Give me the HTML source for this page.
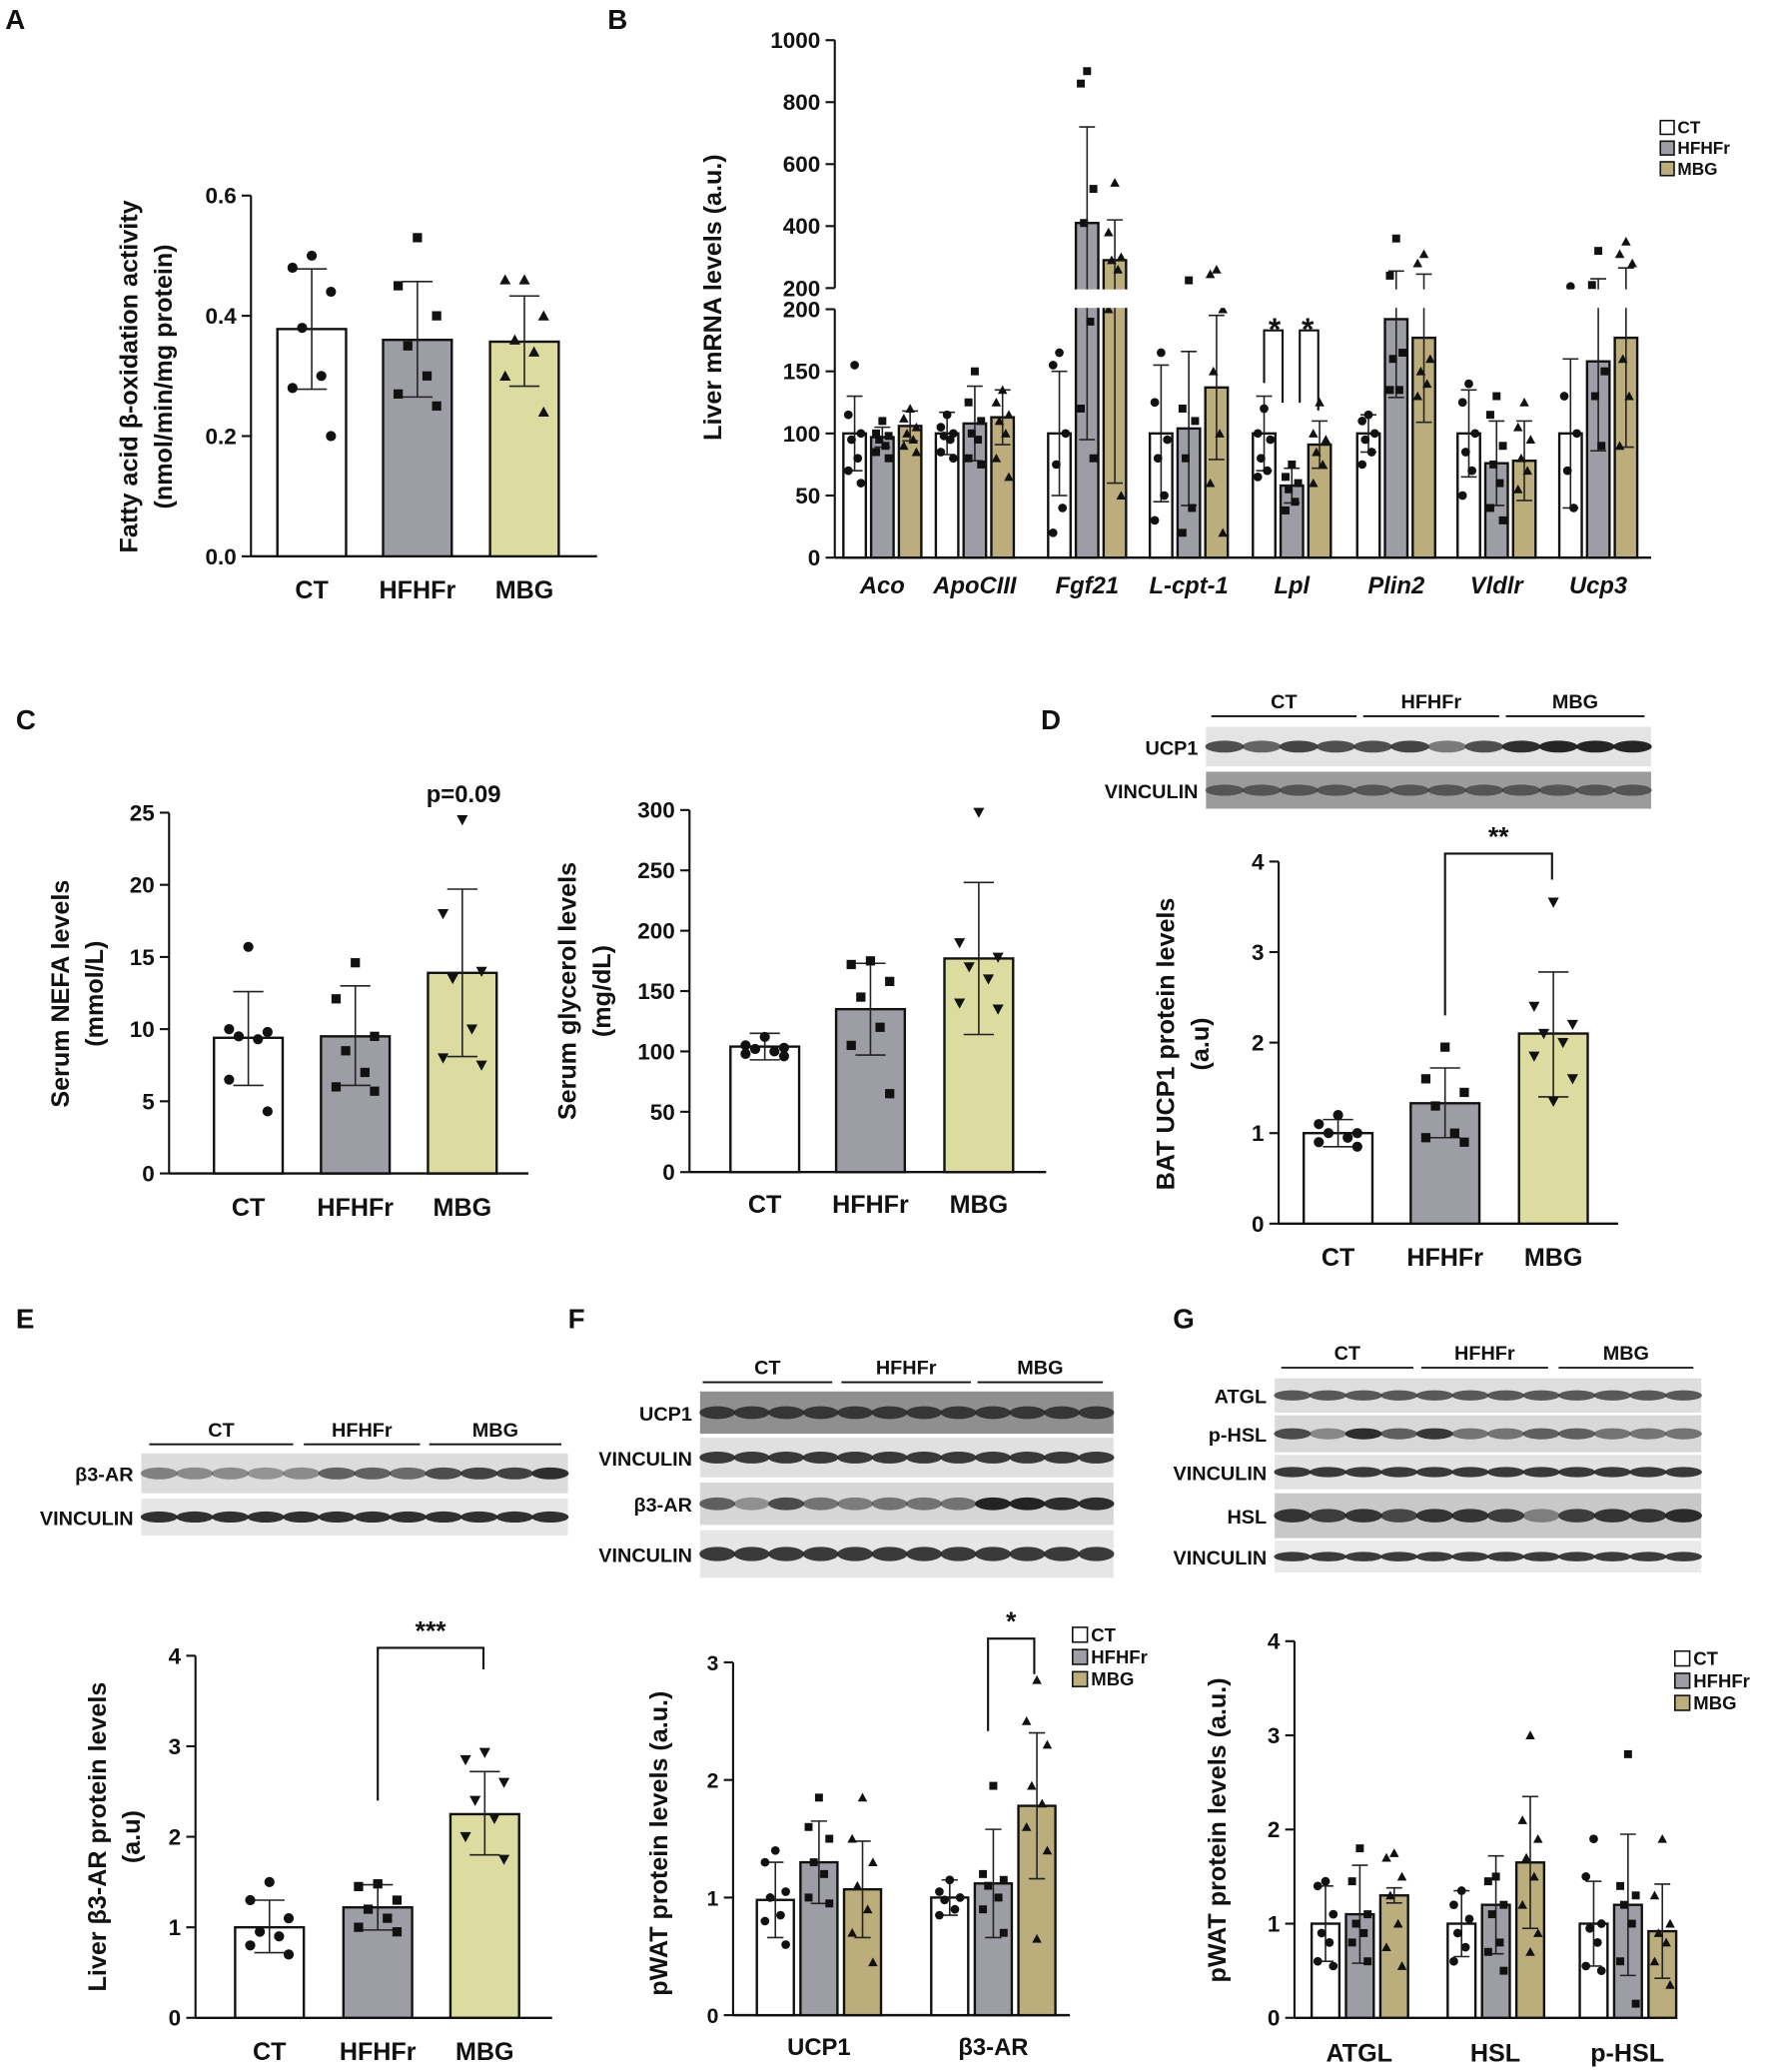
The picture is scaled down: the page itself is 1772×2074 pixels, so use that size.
<!DOCTYPE html>
<html><head><meta charset="utf-8"><style>
html,body{margin:0;padding:0;background:#fff;}
svg{display:block;font-family:"Liberation Sans",Arial,sans-serif;}
text{font-weight:bold;fill:#111;}
</style></head><body>
<svg id="fig" width="1772" height="2074" viewBox="0 0 1340 1568" preserveAspectRatio="none" xmlns="http://www.w3.org/2000/svg"></svg>
<script>
// ---- DATA ----
const groups = ['CT','HFHFr','MBG'];
// Panel A
const aVals=[0.378,0.36,0.357], aHi=[0.478,0.457,0.433], aLo=[0.278,0.265,0.283];
const aPts=[[0.5,0.48,0.44,0.38,0.3,0.28,0.2],[0.53,0.45,0.4,0.35,0.3,0.27,0.25],[0.46,0.46,0.4,0.36,0.34,0.3,0.24]];
const aTicks=[0,0.2,0.4,0.6], aTickLabels=['0.0','0.2','0.4','0.6'];
// Panel B
const bGenes=['Aco','ApoCIII','Fgf21','L-cpt-1','Lpl','Plin2','Vldlr','Ucp3'];
const bVals=[[100,97,106],[100,108,113],[100,410,290],[100,104,137],[100,58,91],[100,192,177],[100,76,78],[100,158,177]];
const bHi=[[130,105,118],[117,138,135],[150,720,420],[155,166,195],[130,72,110],[115,255,245],[135,110,110],[160,230,265]];
const bLo=[[70,89,94],[83,78,91],[50,95,60],[45,42,79],[70,44,72],[85,129,109],[65,42,46],[40,86,89]];
const bPts=[
[[155,115,100,95,80,70,60],[110,100,98,95,90,85,80],[120,112,105,100,95,90,85]],
[[115,105,100,98,95,85,80],[150,125,110,100,95,80,75],[135,125,115,110,100,80,65]],
[[165,155,100,75,40,20],[900,860,520,410,190,120,80],[540,380,300,290,260,200,50]],
[[165,125,95,80,50,30],[225,120,110,80,40,20],[260,245,200,150,100,60,20]],
[[120,100,95,80,70,65],[75,65,60,55,45,38],[125,100,95,85,75,60]],
[[115,110,100,95,85,75],[360,240,165,160,135,135],[310,280,160,150,140,130]],
[[140,125,100,85,70,50],[130,115,90,75,60,40,30],[125,105,95,80,70,55]],
[[205,130,100,70,40],[320,210,150,130,90],[350,310,280,160,130,90]]];
const bTicksLo=[0,50,100,150,200], bTicksHi=[200,400,600,800,1000];
// Panel C left (NEFA)
const cVals=[9.4,9.5,13.9], cHi=[12.6,13.0,19.7], cLo=[6.1,6.1,8.1];
const cPts=[[15.7,10,9.8,9.5,9.3,6.5,4.3],[14.6,12.1,9.5,8.5,7,6,5.7],[24.5,18,14,13.5,10,8,7.5]];
const cTicks=[0,5,10,15,20,25];
// Panel C right (glycerol)
const gVals=[104,135,177], gHi=[115,173,240], gLo=[93,97,114];
const gPts=[[112,105,103,102,100,98,96],[175,172,158,145,120,105,65],[298,190,178,170,160,140,135]];
const gTicks=[0,50,100,150,200,250,300];
// Panel D
const dVals=[1.0,1.33,2.1], dHi=[1.15,1.72,2.78], dLo=[0.85,0.95,1.4];
const dPts=[[1.2,1.1,1.0,1.0,0.95,0.9,0.85],[1.95,1.6,1.45,1.3,1.0,0.95,0.9],[3.55,2.4,2.2,2.1,2.0,1.85,1.6,1.35]];
const dTicks=[0,1,2,3,4];
// Panel E
const eVals=[1.0,1.22,2.25], eHi=[1.3,1.47,2.72], eLo=[0.72,0.97,1.8];
const ePts=[[1.5,1.3,1.1,0.95,0.9,0.8,0.7],[1.48,1.45,1.3,1.2,1.1,1.0,0.95],[2.93,2.85,2.6,2.4,2.2,2.0,1.75]];
// Panel F
const fCats=['UCP1','β3-AR'];
const fVals=[[0.98,1.3,1.07],[1.0,1.12,1.78]], fHi=[[1.3,1.65,1.48],[1.15,1.58,2.4]], fLo=[[0.66,0.95,0.66],[0.85,0.66,1.16]];
const fPts=[[[1.4,1.3,1.05,1.0,0.85,0.8,0.6],[1.85,1.6,1.5,1.3,1.2,1.0,0.95],[1.85,1.5,1.3,1.1,0.9,0.7,0.45]],
[[1.15,1.05,1.0,0.98,0.9,0.85],[1.95,1.2,1.15,1.1,1.0,0.9,0.7],[2.85,2.5,2.3,1.95,1.8,1.6,1.4,0.65]]];
const fTicks=[0,1,2,3];
// Panel G
const gCats=['ATGL','HSL','p-HSL'];
const hVals=[[1.0,1.1,1.3],[1.0,1.2,1.65],[1.0,1.2,0.92]], hHi=[[1.4,1.62,1.38],[1.35,1.72,2.35],[1.45,1.95,1.42]], hLo=[[0.6,0.58,1.22],[0.65,0.68,0.95],[0.55,0.45,0.42]];
const hPts=[[[1.45,1.4,1.1,0.9,0.8,0.6,0.55],[1.8,1.45,1.1,1.0,0.9,0.8,0.6],[1.75,1.7,1.5,1.3,1.0,0.75,0.55]],
[[1.35,1.2,1.05,0.9,0.75,0.6],[1.5,1.45,1.2,1.1,0.8,0.7,0.5],[3.0,2.1,1.9,1.7,1.5,1.2,0.9,0.7]],
[[1.9,1.5,1.0,0.95,0.8,0.55,0.5],[2.8,1.4,1.3,1.2,1.0,0.6,0.15],[1.9,1.3,1.0,0.9,0.8,0.6,0.35]]];

// ---- DRAWING ----
const svg=document.getElementById('fig');
const NS='http://www.w3.org/2000/svg';
function mk(tag,attrs,name,parent){
  const el=document.createElementNS(NS,tag);
  for(const k in attrs) el.setAttribute(k,attrs[k]);
  
  
  (parent||svg).appendChild(el);
  return el;
}
function txt(x,y,s,name,opt){
  opt=opt||{};
  const t=mk('text',{x:x,y:y,'font-size':opt.size||17,'text-anchor':opt.anchor||'middle','font-style':opt.italic?'italic':'normal'},name);
  if(opt.rot) t.setAttribute('transform','rotate(-90 '+x+' '+y+')');
  t.textContent=s;
  return t;
}
function lin(v0,v1,p0,p1){return v=>p0+(v-v0)*(p1-p0)/(v1-v0);}
function yAxis(x,yOf,ticks,labels,name,fs){
  const vals=ticks.map(yOf);
  mk('line',{x1:x,x2:x,y1:Math.min(...vals),y2:Math.max(...vals),stroke:'#111','stroke-width':1.6},name+'-line');
  ticks.forEach((t,i)=>{
    mk('line',{x1:x-7,x2:x,y1:yOf(t),y2:yOf(t),stroke:'#111','stroke-width':1.6},name+'-tick');
    txt(x-11,yOf(t)+6,labels?labels[i]:String(t),name+'-label',{anchor:'end',size:fs||17});
  });
}
function xAxis(x1,x2,y,name){mk('line',{x1:x1,x2:x2,y1:y,y2:y,stroke:'#111','stroke-width':1.8},name);}
function marker(cx,cy,type,s,name){
  if(type==='c') mk('circle',{cx:cx,cy:cy,r:s*0.55,fill:'#111'},name);
  else if(type==='s') mk('rect',{x:cx-s*0.5,y:cy-s*0.5,width:s,height:s,fill:'#111'},name);
  else if(type==='t') mk('polygon',{points:`${cx},${cy-s*0.6} ${cx-s*0.6},${cy+s*0.5} ${cx+s*0.6},${cy+s*0.5}`,fill:'#111'},name);
  else mk('polygon',{points:`${cx},${cy+s*0.6} ${cx-s*0.6},${cy-s*0.5} ${cx+s*0.6},${cy-s*0.5}`,fill:'#111'},name);
}
function bar(x,w,yOf,val,hi,lo,pts,fill,mtype,name,ms){
  const y0=yOf(0),y=yOf(val);
  mk('rect',{x:x,y:y,width:w,height:y0-y,fill:fill,stroke:'#111','stroke-width':1.8},name);
  const cx=x+w/2,cw=Math.max(6,w*0.22);
  mk('line',{x1:cx,x2:cx,y1:yOf(hi),y2:yOf(lo),stroke:'#222','stroke-width':1.2},name+'-error');
  mk('line',{x1:cx-cw,x2:cx+cw,y1:yOf(hi),y2:yOf(hi),stroke:'#222','stroke-width':1.2},name+'-error-cap');
  mk('line',{x1:cx-cw,x2:cx+cw,y1:yOf(lo),y2:yOf(lo),stroke:'#222','stroke-width':1.2},name+'-error-cap');
  pts.forEach((p,j)=>{
    const off=[0,-1,1,-0.5,0.5,-1,1,0][j%8]*w*0.28;
    marker(cx+off,yOf(p),mtype,ms||7,name+'-point');
  });
}
function panelLabel(x,y,s){txt(x,y,s,'panel-label-'+s.toLowerCase(),{anchor:'start',size:21});}
function bracket(x1,yb1,x2,yb2,ytop,label,name){
  mk('polyline',{points:`${x1},${yb1} ${x1},${ytop} ${x2},${ytop} ${x2},${yb2}`,fill:'none',stroke:'#111','stroke-width':1.6},name);
  txt((x1+x2)/2,ytop-6,label,name+'-stars',{size:20});
}
function legend(x,y,name,fills,fs){
  groups.forEach((g,i)=>{
    mk('rect',{x:x,y:y+i*fs*1.2-fs*0.75,width:fs*0.8,height:fs*0.8,fill:fills[i],stroke:'#111','stroke-width':1.2},name+'-swatch');
    txt(x+fs,y+i*fs*1.2,g,name+'-entry',{anchor:'start',size:fs});
  });
}
function blot(x,rows,w,lanes,name){
  rows.forEach((r)=>{
    mk('rect',{x:x,y:r.y,width:w,height:r.h,fill:r.bg||'#dadada'},name+'-row');
    const lw=w/lanes;
    for(let k=0;k<lanes;k++){
      const d=r.dark?r.dark[k%r.dark.length]:0.6;
      mk('ellipse',{cx:x+lw*(k+0.5),cy:r.y+r.h/2,rx:lw*0.52,ry:r.h*0.15,fill:`rgba(15,15,15,${d})`},name+'-band');
    }
    txt(x-6,r.y+r.h/2+6,r.label,name+'-label',{anchor:'end',size:15});
  });
}
function groupHeader(xs,y,name){
  groups.forEach((g,i)=>{
    mk('line',{x1:xs[i][0],x2:xs[i][1],y1:y,y2:y,stroke:'#111','stroke-width':1.4},name+'-line');
    txt((xs[i][0]+xs[i][1])/2,y-6,g,name+'-label',{size:15});
  });
}
const W='#ffffff',G='#9d9da6',M1='#dcdba0',M2='#bcad7c';
const fills1=[W,G,M1],fills2=[W,G,M2];

// ===== Panel A =====
panelLabel(4,22,'A');
{const yOf=lin(0,0.6,421,148);
yAxis(190,yOf,aTicks,aTickLabels,'a-y-axis');
xAxis(190,452,421,'a-x-axis');
const xs=[210,290,371],mt=['c','s','t'];
groups.forEach((g,i)=>{bar(xs[i],52,yOf,aVals[i],aHi[i],aLo[i],aPts[i],fills1[i],mt[i],'a-bar-'+g.toLowerCase());
 txt(xs[i]+26,453,g,'a-x-label',{size:19});});
txt(104,285,'Fatty acid β-oxidation activity','a-y-title',{rot:1,size:19});
txt(130,285,'(nmol/min/mg protein)','a-y-title-2',{rot:1,size:19});}

// ===== Panel B =====
panelLabel(460,22,'B');
{const yOf=v=> v<=200 ? 422-v*0.94 : 218-(v-200)*0.2345;
const cxs=[668,738,823,900,978,1057,1133,1210],bw=17,mt=['c','s','t'];
bGenes.forEach((gn,i)=>{
  groups.forEach((g,j)=>{const x=cxs[i]+(j-1)*21-bw/2;
    bar(x,bw,yOf,bVals[i][j],bHi[i][j],bLo[i][j],bPts[i][j],fills2[j],mt[j],'b-bar-'+gn.toLowerCase()+'-'+g.toLowerCase(),6);});
  txt(cxs[i],449,gn,'b-x-label',{size:18,italic:1});
});
mk('rect',{x:634,y:219,width:620,height:14,fill:'#fff'},'b-axis-break-gap');
yAxis(632,yOf,bTicksLo,null,'b-y-axis-lower');
const yH=v=>218-(v-200)*0.2345;
yAxis(632,yH,bTicksHi,null,'b-y-axis-upper');
xAxis(632,1250,422,'b-x-axis');
txt(546,225,'Liver mRNA levels (a.u.)','b-y-title',{rot:1,size:19});
legend(1257,101,'b-legend',fills2,13);
bracket(957,yOf(130)-10,971,yOf(130)+5,yOf(183),'','b-sig-lpl-1');
bracket(984,yOf(130)+5,998,yOf(110)-8,yOf(183),'','b-sig-lpl-2');
txt(965,257,'*','b-star-1',{size:24});txt(990,257,'*','b-star-2',{size:24});}

// ===== Panel C left =====
panelLabel(12,552,'C');
{const yOf=lin(0,25,888,615);
yAxis(128,yOf,cTicks,null,'c-nefa-y-axis');
xAxis(128,400,888,'c-nefa-x-axis');
const xs=[162,243,324],mt=['c','s','v'];
groups.forEach((g,i)=>{bar(xs[i],52,yOf,cVals[i],cHi[i],cLo[i],cPts[i],fills1[i],mt[i],'c-nefa-bar-'+g.toLowerCase());
 txt(xs[i]+26,920,g,'c-nefa-x-label',{size:19});});
txt(351,607,'p=0.09','c-nefa-pvalue',{size:18});
txt(52,752,'Serum NEFA levels','c-nefa-y-title',{rot:1,size:19});
txt(78,752,'(mmol/L)','c-nefa-y-title-2',{rot:1,size:19});}

// ===== Panel C right =====
{const yOf=lin(0,300,887,613);
yAxis(522,yOf,gTicks,null,'c-glycerol-y-axis');
xAxis(522,792,887,'c-glycerol-x-axis');
const xs=[553,633,715],mt=['c','s','v'];
groups.forEach((g,i)=>{bar(xs[i],52,yOf,gVals[i],gHi[i],gLo[i],gPts[i],fills1[i],mt[i],'c-glycerol-bar-'+g.toLowerCase());
 txt(xs[i]+26,918,g,'c-glycerol-x-label',{size:19});});
txt(436,750,'Serum glycerol levels','c-glycerol-y-title',{rot:1,size:19});
txt(462,750,'(mg/dL)','c-glycerol-y-title-2',{rot:1,size:19});}

// ===== Panel D =====
panelLabel(788,552,'D');
groupHeader([[917,1027],[1032,1135],[1140,1245]],542,'d-blot-header');
blot(913,[{y:550,h:30,label:'UCP1',bg:'#e4e4e4',dark:[0.7,0.6,0.75,0.7,0.7,0.75,0.5,0.7,0.85,0.9,0.9,0.9]},{y:584,h:28,label:'VINCULIN',bg:'#9b9b9b',dark:[0.5]}],337,12,'d-blot');
{const yOf=lin(0,4,926,652);
yAxis(968,yOf,dTicks,null,'d-y-axis');
xAxis(968,1225,926,'d-x-axis');
const xs=[987,1068,1150],mt=['c','s','v'];
groups.forEach((g,i)=>{bar(xs[i],52,yOf,dVals[i],dHi[i],dLo[i],dPts[i],fills1[i],mt[i],'d-bar-'+g.toLowerCase());
 txt(xs[i]+26,958,g,'d-x-label',{size:19});});
bracket(1094,yOf(2.3),1175,yOf(3.8),646,'**','d-sig-bracket');
txt(889,790,'BAT UCP1 protein levels','d-y-title',{rot:1,size:19});
txt(915,790,'(a.u)','d-y-title-2',{rot:1,size:19});}

// ===== Panel E =====
panelLabel(12,1005,'E');
groupHeader([[113,222],[230,318],[325,425]],1093,'e-blot-header');
blot(107,[{y:1100,h:30,label:'β3-AR',bg:'#dcdcdc',dark:[0.45,0.4,0.4,0.35,0.4,0.6,0.6,0.55,0.7,0.75,0.75,0.85]},{y:1134,h:28,label:'VINCULIN',bg:'#e6e6e6',dark:[0.85]}],323,12,'e-blot');
{const yOf=lin(0,4,1527,1253);
yAxis(148,yOf,dTicks,null,'e-y-axis');
xAxis(148,418,1527,'e-x-axis');
const xs=[178,260,341],mt=['c','s','v'];
groups.forEach((g,i)=>{bar(xs[i],52,yOf,eVals[i],eHi[i],eLo[i],ePts[i],fills1[i],mt[i],'e-bar-'+g.toLowerCase());
 txt(xs[i]+26,1559,g,'e-x-label',{size:19});});
bracket(286,yOf(2.4),366,yOf(3.85),1247,'***','e-sig-bracket');
txt(80,1390,'Liver β3-AR protein levels','e-y-title',{rot:1,size:19});
txt(106,1390,'(a.u)','e-y-title-2',{rot:1,size:19});}

// ===== Panel F =====
panelLabel(430,1005,'F');
groupHeader([[532,630],[637,735],[740,835]],1046,'f-blot-header');
blot(530,[{y:1053,h:32,label:'UCP1',bg:'#8f8f8f',dark:[0.7]},{y:1088,h:30,label:'VINCULIN',bg:'#e0e0e0',dark:[0.8]},{y:1122,h:32,label:'β3-AR',bg:'#d6d6d6',dark:[0.6,0.35,0.7,0.5,0.45,0.5,0.5,0.5,0.9,0.9,0.85,0.85]},{y:1158,h:36,label:'VINCULIN',bg:'#e6e6e6',dark:[0.8]}],313,12,'f-blot');
{const yOf=lin(0,3,1525,1258);
yAxis(555,yOf,fTicks,null,'f-y-axis',16);
xAxis(555,810,1525,'f-x-axis');
const gx=[573,705],mt=['c','s','t'];
fCats.forEach((c,i)=>{groups.forEach((g,j)=>bar(gx[i]+j*33,28,yOf,fVals[i][j],fHi[i][j],fLo[i][j],fPts[i][j],fills2[j],mt[j],'f-bar-'+c.toLowerCase()+'-'+g.toLowerCase(),6));
 txt(gx[i]+47,1555,c,'f-x-label',{size:18});});
bracket(748,1310,783,yOf(2.9),1240,'*','f-sig-bracket');
txt(505,1395,'pWAT protein levels (a.u.)','f-y-title',{rot:1,size:19});
legend(812,1242,'f-legend',fills2,14);}

// ===== Panel G =====
panelLabel(888,1005,'G');
groupHeader([[970,1070],[1076,1172],[1180,1282]],1035,'g-blot-header');
blot(965,[{y:1043,h:26,label:'ATGL',bg:'#dedede',dark:[0.65]},{y:1071,h:28,label:'p-HSL',bg:'#d8d8d8',dark:[0.7,0.4,0.85,0.6,0.8,0.5,0.5,0.6,0.6,0.5,0.5,0.5]},{y:1101,h:26,label:'VINCULIN',bg:'#e2e2e2',dark:[0.8]},{y:1130,h:34,label:'HSL',bg:'#c8c8c8',dark:[0.8,0.75,0.8,0.7,0.8,0.8,0.75,0.4,0.75,0.8,0.8,0.85]},{y:1166,h:24,label:'VINCULIN',bg:'#eaeaea',dark:[0.8]}],323,12,'g-blot');
{const yOf=lin(0,4,1527,1242);
yAxis(980,yOf,dTicks,null,'g-y-axis',17);
xAxis(980,1262,1527,'g-x-axis');
const gx=[993,1096,1196],mt=['c','s','t'];
gCats.forEach((c,i)=>{groups.forEach((g,j)=>bar(gx[i]+j*26,21,yOf,hVals[i][j],hHi[i][j],hLo[i][j],hPts[i][j],fills2[j],mt[j],'g-bar-'+c.toLowerCase()+'-'+g.toLowerCase(),6));
 txt(gx[i]+36,1560,c,'g-x-label',{size:19});});
txt(928,1385,'pWAT protein levels (a.u.)','g-y-title',{rot:1,size:19});
legend(1268,1260,'g-legend',fills2,14);}
</script>
</body></html>
